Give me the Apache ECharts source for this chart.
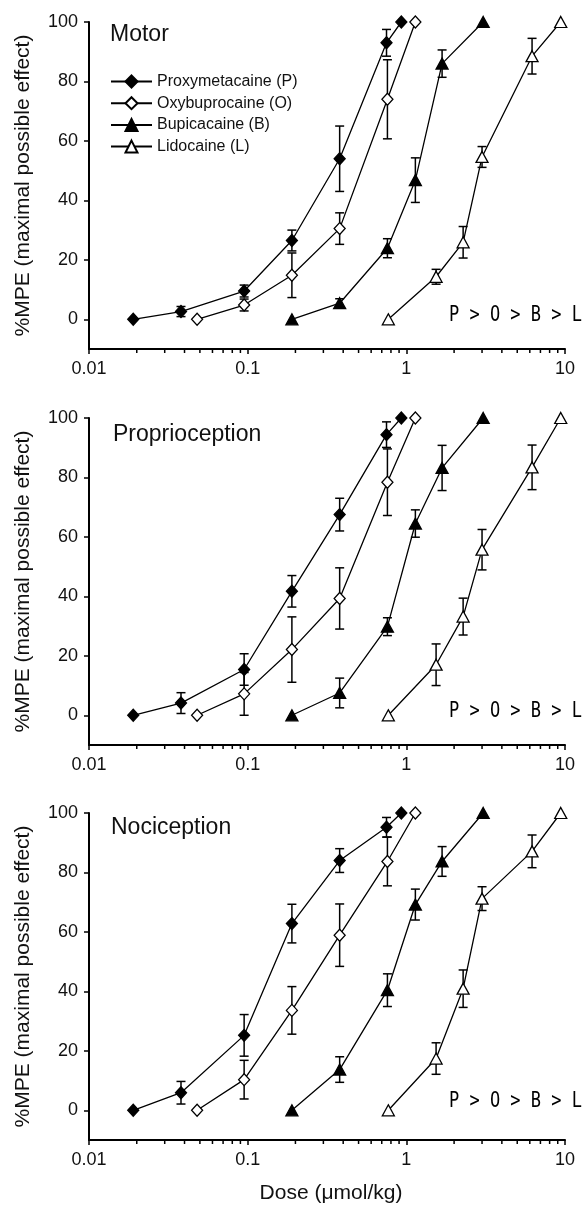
<!DOCTYPE html>
<html><head><meta charset="utf-8">
<script src="https://cdn.jsdelivr.net/npm/echarts@6/dist/echarts.min.js"></script>
<style>html,body{margin:0;padding:0;background:#fff}#c{width:585px;height:1206px}</style>
</head><body><div id="c"></div>
<script>
// ---- tick data ----
const yTickValues = [0, 20, 40, 60, 80, 100];
const minorTickValues = [0.02,0.03,0.04,0.05,0.06,0.07,0.08,0.09,0.2,0.3,0.4,0.5,0.6,0.7,0.8,0.9,2,3,4,5,6,7,8,9];
const panelTitles = ['Motor', 'Proprioception', 'Nociception'];
const drugNames = ['Proxymetacaine (P)', 'Oxybuprocaine (O)', 'Bupicacaine (B)', 'Lidocaine (L)'];
const orderText = 'P > O > B > L';

// ---- doses (µmol/kg) ----
const doseP = [0.019, 0.038, 0.095, 0.19, 0.38, 0.75, 0.93];
const doseO = [0.048, 0.095, 0.19, 0.38, 0.76, 1.14];
const doseB = [0.19, 0.38, 0.76, 1.14, 1.68, 3.05];
const doseL = [0.77, 1.54, 2.28, 3.0, 6.2, 9.4];

// ---- Motor ----
const motorP = [0, 2.6, 9.5, 26.5, 54, 93, 100];
const motorPErr = [0, 1.7, 2, 3.5, 11, 4.5, 0];
const motorO = [0, 4.8, 14.8, 30.5, 74, 100];
const motorOErr = [0, 2, 7.5, 5.3, 13.3, 0];
const motorB = [0, 5.4, 23.9, 46.8, 86, 100];
const motorBErr = [0, 1.5, 3.2, 7.5, 4.6, 0];
const motorL = [0, 14.3, 25.9, 54.6, 88.5, 100];
const motorLErr = [0, 2.5, 5.3, 3.5, 6, 0];

// ---- Proprioception ----
const propP = [0, 4.1, 15.4, 41.7, 67.5, 94.4, 100];
const propPErr = [0, 3.5, 5.3, 5.3, 5.5, 4.3, 0];
const propO = [0, 7.2, 22.1, 39.3, 78.4, 100];
const propOErr = [0, 7.2, 11, 10.3, 11.2, 0];
const propB = [0, 7.5, 29.8, 64.5, 83.2, 100];
const propBErr = [0, 5, 3, 4.6, 7.6, 0];
const propL = [0, 17, 33.2, 55.7, 83.4, 100];
const propLErr = [0, 7, 6.2, 6.8, 7.5, 0];

// ---- Nociception ----
const nociP = [0, 5.9, 25.2, 62.8, 84, 95.2, 100];
const nociPErr = [0, 3.8, 7, 6.5, 4, 3.3, 0];
const nociO = [0, 10.3, 33.6, 58.9, 83.7, 100];
const nociOErr = [0, 6.5, 8, 10.5, 8.2, 0];
const nociB = [0, 13.7, 40.4, 69.2, 83.7, 100];
const nociBErr = [0, 4.3, 5.5, 5.2, 5, 0];
const nociL = [0, 17.4, 40.9, 71.2, 87.1, 100];
const nociLErr = [0, 5.3, 6.3, 4, 5.5, 0];

const doses = [doseP, doseO, doseB, doseL];
const panelValues = [
  [motorP, motorO, motorB, motorL],
  [propP, propO, propB, propL],
  [nociP, nociO, nociB, nociL]
];
const panelErrors = [
  [motorPErr, motorOErr, motorBErr, motorLErr],
  [propPErr, propOErr, propBErr, propLErr],
  [nociPErr, nociOErr, nociBErr, nociLErr]
];

// ---- styling ----
const FONT = '"Liberation Sans", Arial, sans-serif';
const TXT = '#111';
const gridTops = [22, 418, 813];
const gridH = 327;
const drugStyles = [
  { symbol: 'diamond', size: [11, 12], fill: '#000' },
  { symbol: 'diamond', size: [11, 12], fill: '#fff' },
  { symbol: 'triangle', size: [12, 11], fill: '#000' },
  { symbol: 'triangle', size: [12, 11], fill: '#fff' }
];

function renderErr(params, api) {
  const x = api.value(0), lo = api.value(1), hi = api.value(2);
  if (!(hi - lo > 0)) return null;
  const a = api.coord([x, lo]), b = api.coord([x, hi]);
  const w = 4.5;
  const st = { stroke: '#000', lineWidth: 1.5 };
  return { type: 'group', children: [
    { type: 'line', shape: { x1: a[0], y1: a[1], x2: b[0], y2: b[1] }, style: st },
    { type: 'line', shape: { x1: a[0] - w, y1: a[1], x2: a[0] + w, y2: a[1] }, style: st },
    { type: 'line', shape: { x1: b[0] - w, y1: b[1], x2: b[0] + w, y2: b[1] }, style: st }
  ]};
}
function renderMinor(params, api) {
  const p = api.coord([api.value(0), -10]);
  return { type: 'line', shape: { x1: p[0], y1: p[1], x2: p[0], y2: p[1] + 4 }, style: { stroke: '#000', lineWidth: 1.5 } };
}

const grid = [], xAxis = [], yAxis = [], series = [], graphic = [];
for (let k = 0; k < 3; k++) {
  grid.push({ left: 89, right: 20, top: gridTops[k], height: gridH, containLabel: false, outerBoundsMode: 'none' });
  xAxis.push({
    type: 'log', logBase: 10, min: 0.01, max: 10, gridIndex: k,
    axisLine: { onZero: false, lineStyle: { color: '#000', width: 2 } },
    axisTick: { show: true, length: 5, lineStyle: { color: '#000', width: 1.5 } },
    axisLabel: { fontFamily: FONT, fontSize: 18, color: TXT, margin: 11 },
    splitLine: { show: false }
  });
  yAxis.push({
    type: 'value', min: -10, max: 100, gridIndex: k,
    name: '%MPE (maximal possible effect)', nameLocation: 'middle', nameGap: 55,
    nameTextStyle: { fontFamily: FONT, fontSize: 21, color: TXT },
    axisLine: { show: true, lineStyle: { color: '#000', width: 2 } },
    axisTick: { show: true, length: 5, customValues: yTickValues, lineStyle: { color: '#000', width: 1.5 } },
    axisLabel: { fontFamily: FONT, fontSize: 18, color: TXT, margin: 11, customValues: yTickValues },
    splitLine: { show: false }
  });
  for (let d = 0; d < 4; d++) {
    const vals = panelValues[k][d], errs = panelErrors[k][d], xs = doses[d];
    series.push({
      type: 'custom', xAxisIndex: k, yAxisIndex: k, renderItem: renderErr, silent: true, z: 2,
      encode: { x: 0, y: [1, 2] },
      data: xs.map((x, i) => [x, vals[i] - errs[i], vals[i] + errs[i]])
    });
  }
  for (let d = 0; d < 4; d++) {
    const vals = panelValues[k][d], xs = doses[d], s = drugStyles[d];
    series.push({
      type: 'line', name: drugNames[d], xAxisIndex: k, yAxisIndex: k, z: 3,
      symbol: s.symbol, symbolSize: s.size, showAllSymbol: true,
      lineStyle: { color: '#000', width: 1.3 },
      itemStyle: { color: s.fill, borderColor: '#000', borderWidth: 1.3 },
      emphasis: { disabled: true },
      data: xs.map((x, i) => [x, vals[i]])
    });
  }
  series.push({
    type: 'custom', xAxisIndex: k, yAxisIndex: k, renderItem: renderMinor, silent: true, z: 4, clip: false,
    encode: { x: 0 }, data: minorTickValues.map(v => [v])
  });
}

const titleY = [34.5, 435, 828];
const titleX = [110, 113, 111];
const orderY = [316, 712, 1102];
for (let k = 0; k < 3; k++) {
  graphic.push({ type: 'text', x: titleX[k], y: titleY[k], style: {
    text: panelTitles[k], font: '23px ' + FONT, fill: TXT, textAlign: 'left', textVerticalAlign: 'middle', align: 'left', verticalAlign: 'middle' } });
  graphic.push({ type: 'group', x: 582, y: orderY[k], scaleY: 1.2, children: [{ type: 'text', x: 0, y: 0, style: {
    text: orderText, font: '17px "DejaVu Sans Mono", monospace', fill: '#000', textAlign: 'right', textVerticalAlign: 'middle', align: 'right', verticalAlign: 'middle' } }] });
}
graphic.push({ type: 'text', x: 331, y: 1193, style: {
  text: 'Dose (\u03bcmol/kg)', font: '21px ' + FONT, fill: TXT, textAlign: 'center', textVerticalAlign: 'middle', align: 'center', verticalAlign: 'middle' } });

const chart = echarts.init(document.getElementById('c'), null, { renderer: 'canvas' });
chart.setOption({
  animation: false,
  backgroundColor: '#fff',
  grid, xAxis, yAxis, series, graphic,
  legend: {
    data: drugNames, orient: 'vertical', left: 105, top: 68.5,
    itemWidth: 41, itemHeight: 15, itemGap: 5.7,
    lineStyle: { width: 2 },
    textStyle: { fontFamily: FONT, fontSize: 16, color: TXT, lineHeight: 15 },
    selectedMode: false
  }
});
</script></body></html>
